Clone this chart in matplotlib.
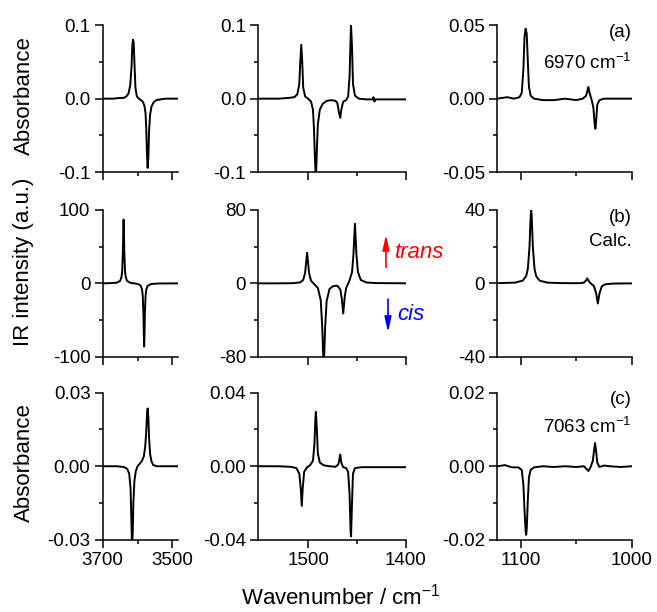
import matplotlib
matplotlib.use("Agg")
import matplotlib.pyplot as plt
from matplotlib.ticker import FormatStrFormatter

plt.rcParams["font.family"] = ["Liberation Sans", "DejaVu Sans"]
plt.rcParams["mathtext.fontset"] = "custom"
plt.rcParams["mathtext.rm"] = "Liberation Sans"
plt.rcParams["mathtext.it"] = "Liberation Sans:italic"
plt.rcParams["axes.unicode_minus"] = False

# values
# rows: (a) exp. 6970 cm-1, (b) calc., (c) exp. 7063 cm-1
# columns: OH stretch, 1550-1400 region, 1120-1000 region

wn_a1 = [3700, 3670, 3650, 3640, 3632, 3626, 3621, 3617, 3615, 3613, 3611, 3609, 3606, 3602, 3596, 3590,
         3585, 3580, 3577, 3575, 3573, 3571, 3569, 3567, 3564, 3560, 3554, 3546, 3535, 3520, 3500, 3483]
abs_a1 = [0.0, 0.0, 0.001, 0.001, 0.003, 0.007, 0.018, 0.045, 0.072, 0.080, 0.076, 0.05, 0.015, 0.003, 0.0, -0.002,
          -0.004, -0.01, -0.02, -0.04, -0.075, -0.094, -0.08, -0.045, -0.022, -0.011, -0.005, -0.002, -0.001, 0.0, 0.0, 0.0]

wn_a2 = [1551, 1530, 1520, 1514, 1511, 1509, 1508, 1507, 1506, 1505, 1503, 1500, 1497, 1495, 1494,
         1493, 1492, 1491, 1490, 1488, 1485, 1481, 1476, 1472, 1470, 1468.5, 1467, 1466, 1464, 1461,
         1459, 1457.5, 1456.5, 1456, 1455, 1454, 1452, 1448, 1440, 1434, 1433, 1432, 1431, 1420, 1400]
abs_a2 = [0.0, 0.0, 0.001, 0.002, 0.006, 0.02, 0.05, 0.073, 0.05, 0.015, 0.003, 0.0, -0.004, -0.015, -0.04,
          -0.08, -0.11, -0.07, -0.035, -0.015, -0.007, -0.003, -0.002, -0.003, -0.006, -0.018, -0.026, -0.015, -0.004, -0.002,
          0.003, 0.03, 0.08, 0.1, 0.07, 0.02, 0.004, 0.0, -0.001, -0.001, 0.002, -0.004, -0.001, -0.001, -0.001]

wn_a3 = [1121, 1112, 1106, 1101, 1099, 1097.5, 1096.5, 1095.5, 1094.5, 1093.5, 1092.5, 1091, 1088, 1080, 1070,
         1060, 1050, 1044, 1041, 1039, 1038, 1036, 1034.5, 1033.5, 1032.7, 1032, 1031, 1029, 1025, 1015, 1000]
abs_a3 = [0.0, 0.001, 0.0, 0.001, 0.004, 0.02, 0.042, 0.0475, 0.044, 0.025, 0.008, 0.002, 0.0, -0.001, -0.001,
          0.0, -0.001, 0.0, 0.002, 0.008, 0.004, -0.001, -0.006, -0.016, -0.0205, -0.015, -0.004, -0.001, 0.0, 0.0, 0.0]

wn_b1 = [3700, 3680, 3660, 3650, 3646, 3644, 3642, 3641, 3640, 3639, 3638, 3636, 3634, 3630, 3620, 3605,
         3595, 3591, 3587, 3585, 3583, 3582, 3581, 3580, 3579, 3577, 3575, 3571, 3561, 3540, 3510, 3483]
int_b1 = [0.1, 0.2, 0.9, 3.3, 8.7, 17.4, 43.5, 69.6, 87, 69.6, 43.5, 17.4, 8.7, 3.3, 0.6, -0.3,
          -1.6, -3.3, -8.6, -17.2, -43, -68.8, -86, -68.8, -43, -17.2, -8.6, -3.3, -0.9, -0.2, -0.1, 0.0]

wn_b2 = [1551, 1530, 1515, 1508, 1505, 1503, 1502, 1501, 1500, 1499, 1497, 1494, 1490, 1487, 1485.5, 1484, 1482.5, 1481,
         1478, 1474, 1470, 1467, 1465.5, 1464, 1462.5, 1461, 1458, 1455, 1453.5, 1452, 1450.5, 1449, 1446, 1440, 1430, 1400]
int_b2 = [0.0, 0.0, 0.2, 1.1, 3.7, 11.7, 22.8, 33.3, 22.7, 11.3, 2.9, -0.6, -5.0, -18.7, -47.5, -95, -47.5, -19.3,
          -6.0, -2.8, -2.6, -6.7, -16.4, -32.9, -15.2, -4.9, 1.9, 12.0, 32.0, 65, 32.3, 12.6, 3.6, 0.9, 0.3, 0.05]

wn_b3 = [1121, 1105, 1098, 1095, 1093.5, 1092, 1091, 1090.5, 1090, 1089, 1087.5, 1086, 1083, 1076, 1065, 1055,
         1046, 1043, 1041.5, 1040, 1038.5, 1037, 1034, 1032, 1030.5, 1029, 1027, 1024, 1018, 1010, 1000]
int_b3 = [0.1, 0.4, 1.5, 4.0, 8.0, 20.0, 36.0, 40.5, 36.0, 20.0, 8.0, 4.0, 1.5, 0.4, 0.15, 0.1,
          0.1, 0.45, 1.3, 2.7, 1.1, 0.05, -1.5, -5.4, -11.0, -5.5, -1.7, -0.55, -0.16, -0.06, -0.02]

wn_c1 = [3700, 3660, 3640, 3630, 3624, 3620, 3618, 3616, 3614, 3612, 3609, 3605, 3600, 3594,
         3588, 3582, 3578, 3575, 3573, 3571, 3569, 3567, 3564, 3560, 3555, 3545, 3530, 3483]
abs_c1 = [0.0, 0.0, -0.0003, -0.001, -0.003, -0.009, -0.02, -0.032, -0.028, -0.015, -0.006, -0.002, 0.0, 0.001,
          0.002, 0.004, 0.008, 0.014, 0.021, 0.0235, 0.02, 0.012, 0.005, 0.002, 0.0005, 0.0, 0.0, 0.0]

wn_c2 = [1551, 1530, 1518, 1512, 1509, 1507.5, 1506.5, 1505.5, 1504, 1501, 1498, 1495, 1493.5, 1492.5, 1492, 1491, 1490, 1488, 1484,
         1478, 1472, 1469, 1467.5, 1467, 1466, 1464, 1461, 1459, 1457.5, 1456.5, 1456, 1455, 1454, 1452, 1445, 1430, 1400]
abs_c2 = [0.0, 0.0, -0.0003, -0.001, -0.004, -0.012, -0.0215, -0.012, -0.003, -0.0005, 0.0005, 0.003, 0.012, 0.026, 0.0295, 0.02, 0.007, 0.002, 0.0005,
          0.0, -0.0003, 0.001, 0.005, 0.0063, 0.002, -0.0005, -0.001, -0.003, -0.015, -0.035, -0.038, -0.02, -0.004, -0.001, -0.0005, -0.0005, -0.0005]

wn_c3 = [1121, 1114, 1108, 1102, 1099, 1097.5, 1096.5, 1095.5, 1095, 1094.5, 1093.5, 1092.5, 1091, 1088, 1080, 1070,
         1060, 1050, 1043, 1040.5, 1039, 1037, 1035, 1034, 1033, 1032, 1031, 1029, 1025, 1020, 1010, 1000]
abs_c3 = [0.0, 0.0003, -0.0003, -0.0003, -0.001, -0.005, -0.012, -0.0175, -0.0186, -0.017, -0.009, -0.003, -0.001, -0.0003, 0.0, -0.0002,
          0.0, -0.0002, 0.0, -0.0008, -0.0013, -0.0002, 0.0015, 0.004, 0.0063, 0.004, 0.001, -0.0002, 0.0002, 0.0, -0.0002, 0.0]

spectra = [[(wn_a1, abs_a1), (wn_a2, abs_a2), (wn_a3, abs_a3)],
           [(wn_b1, int_b1), (wn_b2, int_b2), (wn_b3, int_b3)],
           [(wn_c1, abs_c1), (wn_c2, abs_c2), (wn_c3, abs_c3)]]

# axis ranges / ticks
x_ranges = [(3700, 3483), (1551, 1400), (1121, 1000)]
x_major = [[3700, 3500], [1500, 1400], [1100, 1000]]
x_minor = [[3600], [1450], [1050]]
y_limits = [[0.1, 0.1, 0.05], [100, 80, 40], [0.03, 0.04, 0.02]]
y_formats = [["%.1f", "%.1f", "%.2f"], ["%d", "%d", "%d"], ["%.2f", "%.2f", "%.2f"]]
row_ylabels = ["Absorbance", "IR intensity (a.u.)", "Absorbance"]
panel_tags = ["(a)", "(b)", "(c)"]
panel_notes = ["6970 cm$^{-1}$", "Calc.", "7063 cm$^{-1}$"]

# panel layout in pixels of the 657x612 figure
W, H = 657, 612
col_left = [102.7, 258.3, 497.3]
col_right = [178.3, 405.7, 631.7]
row_top = [25, 210, 392.5]
row_bottom = [172.3, 356.7, 540]
ylabel_mid = [96, 262, 463]

fig = plt.figure(figsize=(6.57, 6.12), dpi=100)

for r in range(3):
    for c in range(3):
        rect = [col_left[c] / W, 1 - row_bottom[r] / H,
                (col_right[c] - col_left[c]) / W, (row_bottom[r] - row_top[r]) / H]
        ax = fig.add_axes(rect)
        x, y = spectra[r][c]
        ax.plot(x, y, color="black", lw=1.4)

        ax.set_xlim(x_ranges[c])
        lim = y_limits[r][c]
        ax.set_ylim(-lim, lim)
        ax.set_xticks(x_major[c])
        ax.set_xticks(x_minor[c], minor=True)
        ax.set_yticks([-lim, 0, lim])
        ax.set_yticks([-lim / 2, lim / 2], minor=True)
        ax.yaxis.set_major_formatter(FormatStrFormatter(y_formats[r][c]))
        if r < 2:
            ax.set_xticklabels([])

        for s in ["top", "right"]:
            ax.spines[s].set_visible(False)
        for s in ["left", "bottom"]:
            ax.spines[s].set_linewidth(1.1)
        ax.tick_params(which="major", direction="out", length=5.8, width=1.1, labelsize=13.5, pad=3)
        ax.tick_params(which="minor", direction="out", length=3, width=1.1)

        if c == 2:
            ax.text(1.0, 0.95, panel_tags[r], transform=ax.transAxes, ha="right", va="center", fontsize=13.5)
            note_y = [0.742, 0.782, 0.766][r]
            ax.text(1.0, note_y, panel_notes[r], transform=ax.transAxes, ha="right", va="center", fontsize=13.5)

        if r == 1 and c == 1:
            head = "-|>,head_length=0.75,head_width=0.17"
            ax.annotate("", xy=(0.866, 0.85), xytext=(0.866, 0.59), xycoords="axes fraction",
                        arrowprops=dict(arrowstyle=head, color="red", lw=1.2, mutation_scale=12))
            ax.annotate("", xy=(0.88, 0.148), xytext=(0.88, 0.412), xycoords="axes fraction",
                        arrowprops=dict(arrowstyle=head, color="blue", lw=1.2, mutation_scale=12))
            ax.text(0.93, 0.707, "trans", transform=ax.transAxes, color="red", style="italic",
                    fontsize=16, va="center", ha="left")
            ax.text(0.945, 0.285, "cis", transform=ax.transAxes, color="blue", style="italic",
                    fontsize=16, va="center", ha="left")

    fig.text(24 / W, 1 - ylabel_mid[r] / H, row_ylabels[r], rotation=90, ha="center", va="center", fontsize=16)

fig.text(341 / W, 7 / H, "Wavenumber / cm$^{-1}$", ha="center", va="baseline", fontsize=16)

fig.savefig("out.png", dpi=100)
